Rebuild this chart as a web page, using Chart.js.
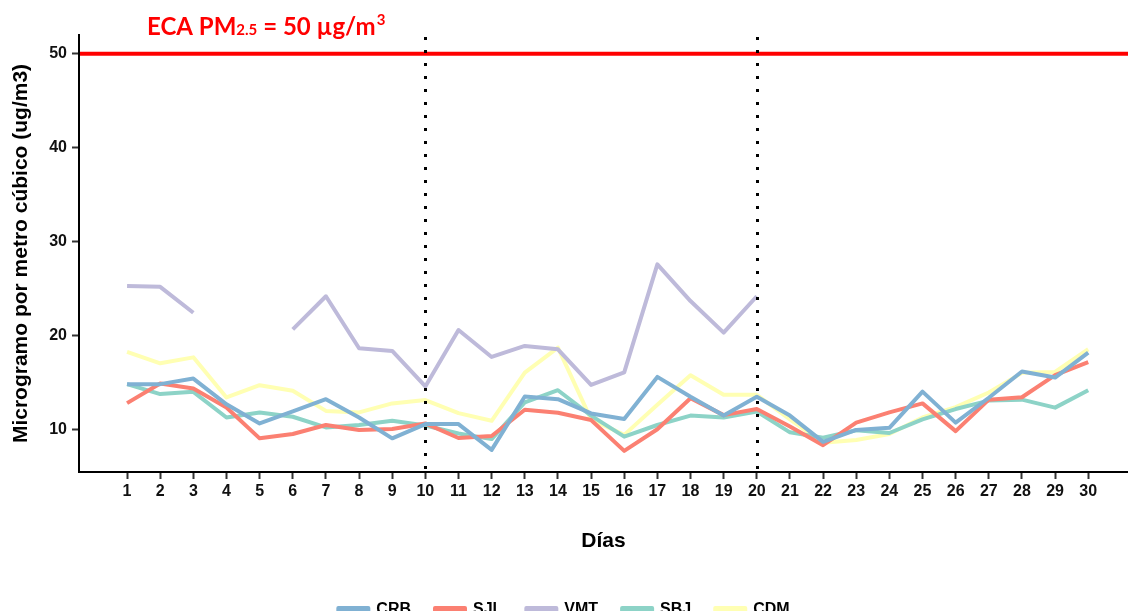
<!DOCTYPE html>
<html lang="es">
<head>
<meta charset="utf-8">
<title>PM2.5 diario por estación</title>
<script src="https://cdn.jsdelivr.net/npm/chart.js@4.4.1/dist/chart.umd.min.js"></script>
<style>
  html, body { margin: 0; padding: 0; background: #fff; }
  #marco { width: 1128px; height: 611px; overflow: hidden; }
  canvas { display: block; }
</style>
</head>
<body>
<div id="marco">
  <canvas id="grafico" width="1128" height="628"></canvas>
</div>
<script>
// días del mes
const dias = [1, 2, 3, 4, 5, 6, 7, 8, 9, 10, 11, 12, 13, 14, 15, 16, 17, 18, 19, 20,
              21, 22, 23, 24, 25, 26, 27, 28, 29, 30];

// concentraciones diarias de PM2.5 (ug/m3) por estación
const CRB = [14.85, 14.85, 15.44, 12.7, 10.67, 11.94, 13.25, 11.3, 9.08, 10.6,
             10.6, 7.85, 13.54, 13.25, 11.73, 11.13, 15.62, 13.5, 11.5, 13.5,
             11.5, 8.7, 9.97, 10.2, 14.05, 10.75, 13.4, 16.2, 15.55, 18.2];
const SJL = [12.83, 14.91, 14.38, 12.37, 9.08, 9.54, 10.5, 9.97, 10.07, 10.67,
             9.12, 9.33, 12.12, 11.8, 11.03, 7.75, 10.05, 13.35, 11.55, 12.2,
             10.35, 8.35, 10.75, 11.84, 12.8, 9.85, 13.2, 13.45, 15.8, 17.2];
const VMT = [25.28, 25.2, 22.45, null, null, 20.68, 24.2, 18.67, 18.38, 14.6,
             20.61, 17.74, 18.91, 18.56, 14.77, 16.1, 27.6, 23.69, 20.33, 24.2,
             null, null, null, null, null, null, null, null, null, null];
const SBJ = [14.85, 13.79, 14.03, 11.3, 11.84, 11.38, 10.24, 10.5, 10.95, 10.45,
             9.6, 9.0, 12.9, 14.2, 11.5, 9.26, 10.5, 11.5, 11.3, 11.94,
             9.72, 9.15, 9.95, 9.65, 11.1, 12.2, 13.1, 13.2, 12.35, 14.2];
const CDM = [18.28, 17.07, 17.7, 13.43, 14.74, 14.14, 12.0, 11.84, 12.8, 13.15,
             11.77, 10.95, 16.08, 18.73, 11.1, 9.45, 12.65, 15.8, 13.71, 13.71,
             11.1, 8.6, 8.9, 9.54, 11.3, 12.4, 13.96, 16.05, 16.15, 18.56];

const estaciones = ["CRB", "SJL", "VMT", "SBJ", "CDM"];
const colores = ["#80B1D3", "#FB8072", "#BEBADA", "#8DD3C7", "#FFFFB3"];
const valores = [CRB, SJL, VMT, SBJ, CDM];

const ticksY = [10, 20, 30, 40, 50];
const limiteECA = 50;          // estándar de calidad ambiental
const cortes = [10, 20];       // separación por decenas de días

const fuente = "'Liberation Sans', Arial, sans-serif";

// 🔹 línea del ECA, cortes punteados y rótulo
const referencias = {
    id: "referencias",
    afterDatasetsDraw(chart) {
        const { ctx, chartArea, scales: { x, y } } = chart;
        ctx.save();

        const py = y.getPixelForValue(limiteECA);
        ctx.strokeStyle = "#FF0000";
        ctx.lineWidth = 4;
        ctx.beginPath();
        ctx.moveTo(chartArea.left + 1, py);
        ctx.lineTo(chartArea.right, py);
        ctx.stroke();

        ctx.strokeStyle = "#000";
        ctx.lineWidth = 3;
        ctx.setLineDash([3, 10]);
        cortes.forEach(d => {
            const px = Math.round(x.getPixelForValue(d)) + 0.5;
            ctx.beginPath();
            ctx.moveTo(px, chartArea.top + 2);
            ctx.lineTo(px, chartArea.bottom);
            ctx.stroke();
        });
        ctx.restore();
    },
    afterDraw(chart) {
        const { ctx, chartArea } = chart;
        ctx.save();
        ctx.fillStyle = "#FF0000";
        ctx.textBaseline = "alphabetic";
        const base = chartArea.top;
        let px = chartArea.left + 68;
        const grande = "bold 24px Lato, 'Open Sans', sans-serif";
        const chica = "bold 15px Lato, 'Open Sans', sans-serif";

        ctx.font = grande;
        ctx.fillText("ECA PM", px, base);
        px += ctx.measureText("ECA PM").width;
        ctx.font = chica;
        ctx.fillText("2.5", px, base);
        px += ctx.measureText("2.5").width;
        ctx.font = grande;
        ctx.fillText(" = 50 µg/m", px, base);
        px += ctx.measureText(" = 50 µg/m").width + 1;
        ctx.font = chica;
        ctx.fillText("3", px, base - 10);
        ctx.restore();
    }
};

const datasets = estaciones.map((nombre, i) => ({
    label: nombre,
    data: dias.map((d, j) => ({ x: d, y: valores[i][j] })),
    borderColor: colores[i],
    backgroundColor: colores[i],
    borderWidth: 4,
    pointRadius: 0,
    tension: 0,
    spanGaps: false,
    borderCapStyle: "butt",
    borderJoinStyle: "round"
}));

const ctx = document.getElementById("grafico").getContext("2d");

new Chart(ctx, {
    type: "line",
    data: { datasets: datasets },
    plugins: [referencias],
    options: {
        responsive: false,
        animation: false,
        events: [],
        layout: { padding: { top: 35, right: 0, bottom: 0, left: 0 } },
        plugins: {
            tooltip: { enabled: false },
            legend: {
                position: "bottom",
                labels: {
                    boxWidth: 30,
                    boxHeight: 4,
                    padding: 24,
                    color: "#000",
                    font: { family: fuente, size: 16, weight: "bold" }
                }
            }
        },
        scales: {
            x: {
                type: "linear",
                min: -0.45,
                max: 31.2,
                afterBuildTicks: s => { s.ticks = dias.map(v => ({ value: v })); },
                afterFit: s => { s.height = 106; },
                grid: {
                    drawOnChartArea: false,
                    drawTicks: true,
                    tickLength: 7,
                    tickWidth: 2,
                    tickColor: "#333"
                },
                border: { display: true, color: "#000", width: 2 },
                ticks: {
                    autoSkip: false,
                    maxRotation: 0,
                    padding: 3,
                    color: "#111",
                    font: { family: fuente, size: 16, weight: "bold" }
                },
                title: {
                    display: true,
                    text: "Días",
                    color: "#000",
                    padding: { top: 0, bottom: 24 },
                    font: { family: fuente, size: 21, weight: "bold" }
                }
            },
            y: {
                min: 5.5,
                max: 52,
                afterBuildTicks: s => { s.ticks = ticksY.map(v => ({ value: v })); },
                afterFit: s => { s.width = 79; },
                grid: {
                    drawOnChartArea: false,
                    drawTicks: true,
                    tickLength: 7,
                    tickWidth: 2,
                    tickColor: "#333"
                },
                border: { display: true, color: "#000", width: 2 },
                ticks: {
                    padding: 5,
                    color: "#111",
                    font: { family: fuente, size: 16, weight: "bold" }
                },
                title: {
                    display: true,
                    text: "Microgramo por metro cúbico (ug/m3)",
                    color: "#000",
                    padding: { top: 9, bottom: 0 },
                    font: { family: fuente, size: 21, weight: "bold" }
                }
            }
        }
    }
});
</script>
</body>
</html>
